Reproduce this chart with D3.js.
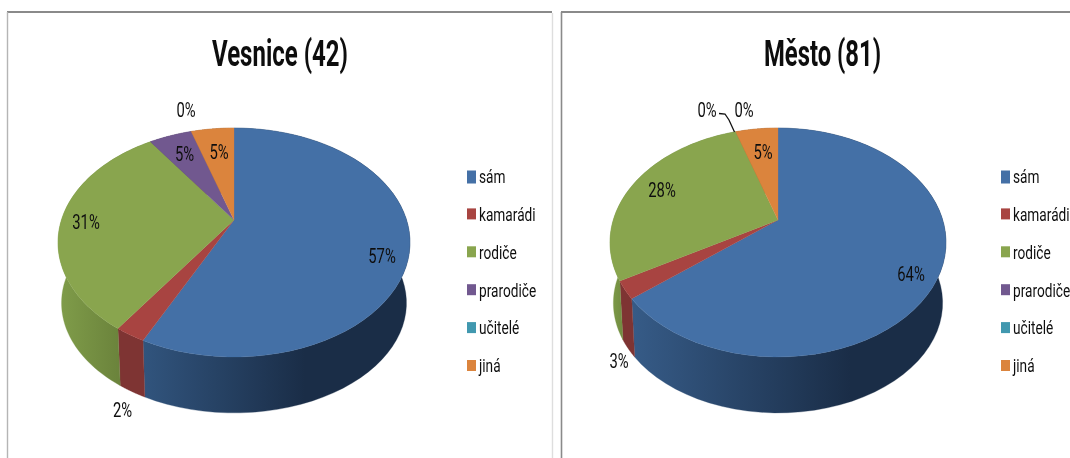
<!DOCTYPE html>
<html><head><meta charset="utf-8">
<script src="https://cdn.jsdelivr.net/npm/d3@7/dist/d3.min.js"></script>
<style>html,body{margin:0;padding:0;background:#fff;overflow:hidden}svg{display:block}</style>
</head><body><svg id="c" width="1070" height="458"></svg>
<script>
// Data
const categories = ["sám", "kamarádi", "rodiče", "prarodiče", "učitelé", "jiná"];
const colors = ["#4470A6", "#A84441", "#89A54E", "#71588F", "#4198AF", "#DB843D"];
const vesniceCounts = [24, 1, 13, 2, 0, 2];
const vesniceLabels = ["57%", "2%", "31%", "5%", "0%", "5%"];
const mestoCounts = [52, 2, 23, 0, 0, 4];
const mestoLabels = ["64%", "3%", "28%", "", "0%", "5%"];
const mestoExtraLabel = "0%";

// Layout
const panels = [
  { title: "Vesnice (42)", titleX: 280, titleW: 136, cx: 234, rx: 176, counts: vesniceCounts, labels: vesniceLabels,
    labelPos: [[382,256],[122.5,410],[86,222],[184.5,154],[186,110],[219,152]],
    legendX: 467,
    sideGrad: { 0: ["#31547d", 144, "#1a2d47", 305], 1: ["#7e3433", 118, "#7e3433", 146], 2: ["#809d4a", 58, "#6a823b", 122] } },
  { title: "Město (81)", titleX: 822.5, titleW: 117, cx: 778, rx: 168, counts: mestoCounts, labels: mestoLabels,
    labelPos: [[911,274],[619,361],[662,190],null,[744,110],[763,152]],
    legendX: 1001,
    extra: { text: mestoExtraLabel, pos: [707,110], leader: [[719,113.5],[725,114],[729,120],[734.5,132]] },
    sideGrad: { 0: ["#365b87", 633, "#1a2d47", 850], 1: ["#7e3433", 620, "#7e3433", 636], 2: ["#7d9a48", 612, "#6f893f", 625] } }
];
const apexY = 220, topY = 128, botY = 357, depth = 61.4, shrinkX = 0.98, shrinkY = 0.96;
const persp = (botY - apexY - (apexY - topY)) / (botY - topY);
const kY = (botY - apexY) * (1 - persp);
const legendYs = d3.range(6).map(i => 176.5 + i * 37.9);

const svg = d3.select("#c");
const defs = svg.append("defs");
defs.append("filter").attr("id", "soft").attr("x", "-5%").attr("y", "-10%").attr("width", "110%").attr("height", "120%")
  .append("feGaussianBlur").attr("stdDeviation", 0.4);

const color = d3.scaleOrdinal().domain(categories).range(colors);
const pie = d3.pie().sort(null).value(d => d.v);
const line = d3.line();

// Panel frames
const frame = svg.append("g");
[[7, 12, 552, 12, "#8a8a8a", 1.8], [7.5, 12, 7.5, 458, "#b5b5b5", 1.4], [552.5, 13, 552.5, 458, "#dedede", 1.4],
 [561, 12, 1070, 12, "#8a8a8a", 1.8], [561.5, 12, 561.5, 458, "#8a8a8a", 1.6]].forEach(l =>
  frame.append("line").attr("x1", l[0]).attr("y1", l[1]).attr("x2", l[2]).attr("y2", l[3]).attr("stroke", l[4]).attr("stroke-width", l[5]));

function drawText(g, txt, x, y, size, weight, sx, anchor) {
  return g.append("text").text(txt)
    .attr("transform", `translate(${x},${y}) scale(${sx},1)`)
    .attr("text-anchor", anchor || "middle").attr("dominant-baseline", "central")
    .attr("font-family", "Roboto, 'Open Sans', sans-serif").attr("font-size", size).attr("font-weight", weight)
    .attr("fill", "#111").attr("filter", "url(#soft)");
}

panels.forEach((p, pi) => {
  const g = svg.append("g");
  const sMax = p.rx * Math.sqrt(1 - persp * persp);
  const project = a => {
    const u = Math.sin(a), v = -Math.cos(a), w = 1 - persp * v;
    return [p.cx + sMax * u / w, apexY + kY * v / w];
  };
  const lower = a => {
    const q = project(a);
    return [p.cx + (q[0] - p.cx) * shrinkX, apexY + depth + (q[1] - apexY) * shrinkY];
  };
  const arcs = pie(p.counts.map((v, i) => ({ v, i, name: categories[i] })));
  const steps = d => d3.range(0, 61).map(k => d.startAngle + (d.endAngle - d.startAngle) * k / 60);
  const visible = arcs.filter(d => d.data.v > 0);

  // Side walls
  visible.forEach(d => {
    const id = `side${pi}_${d.data.i}`;
    const sg = p.sideGrad[d.data.i];
    let fill = d3.color(color(d.data.name)).darker(1).formatHex();
    if (sg) {
      const lg = defs.append("linearGradient").attr("id", id).attr("gradientUnits", "userSpaceOnUse")
        .attr("x1", sg[1]).attr("x2", sg[3]).attr("y1", 0).attr("y2", 0);
      lg.append("stop").attr("offset", 0).attr("stop-color", sg[0]);
      lg.append("stop").attr("offset", 1).attr("stop-color", sg[2]);
      fill = `url(#${id})`;
    }
    const a = steps(d);
    g.append("path").attr("d", line(a.map(project).concat(a.slice().reverse().map(lower))) + "Z").attr("fill", fill)
      .attr("stroke", fill).attr("stroke-width", 0.3);
  });

  // Top surface
  visible.forEach(d => {
    const pts = [[p.cx, apexY]].concat(steps(d).map(project));
    g.append("path").attr("d", line(pts) + "Z").attr("fill", color(d.data.name))
      .attr("stroke", color(d.data.name)).attr("stroke-width", 0.3);
  });

  // Title
  const t = drawText(g, p.title, p.titleX, 54, 36, 700, 1);
  t.attr("transform", null).attr("x", p.titleX).attr("y", 54)
    .attr("textLength", p.titleW).attr("lengthAdjust", "spacingAndGlyphs");

  // Data labels
  p.labels.forEach((txt, i) => {
    if (txt && p.labelPos[i]) drawText(g, txt, p.labelPos[i][0], p.labelPos[i][1], 19.5, 400, 0.76);
  });
  if (p.extra) {
    drawText(g, p.extra.text, p.extra.pos[0], p.extra.pos[1], 19.5, 400, 0.76);
    g.append("path").attr("d", d3.line()(p.extra.leader)).attr("fill", "none").attr("stroke", "#111").attr("stroke-width", 1.3);
  }

  // Legend
  categories.forEach((c, i) => {
    g.append("rect").attr("x", p.legendX).attr("y", legendYs[i] - 6).attr("width", 9).attr("height", i === 0 ? 13 : 11)
      .attr("fill", color(c));
    drawText(g, c, p.legendX + 12, legendYs[i], 19, 400, 0.72, "start");
  });
});
</script></body></html>
